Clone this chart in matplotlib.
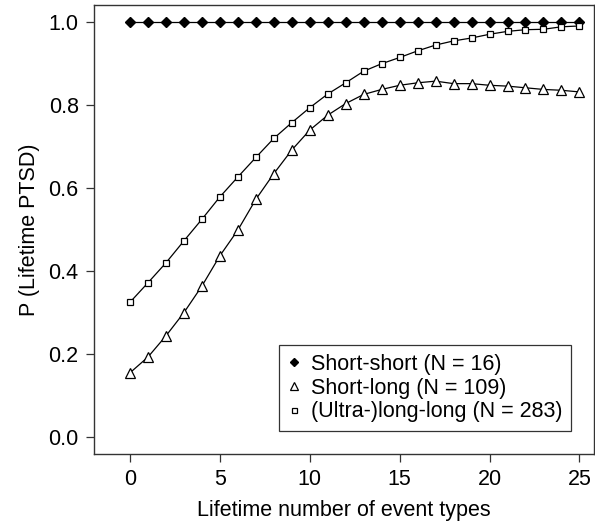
import matplotlib.pyplot as plt
import numpy as np

plt.rcParams['font.family'] = ['Liberation Sans', 'DejaVu Sans']

x = np.arange(0, 26)

short_short = [1.0] * 26
short_long = [0.155, 0.193, 0.244, 0.300, 0.364, 0.437, 0.499, 0.573, 0.635, 0.692,
              0.740, 0.776, 0.804, 0.826, 0.838, 0.848, 0.854, 0.858, 0.852, 0.852,
              0.848, 0.846, 0.842, 0.838, 0.836, 0.832]
long_long = [0.325, 0.372, 0.420, 0.473, 0.525, 0.579, 0.627, 0.674, 0.720, 0.758,
             0.794, 0.827, 0.854, 0.882, 0.900, 0.915, 0.931, 0.945, 0.955, 0.962,
             0.971, 0.978, 0.982, 0.983, 0.989, 0.991]

labels = ['Short-short (N = 16)', 'Short-long (N = 109)', '(Ultra-)long-long (N = 283)']

fig = plt.figure(figsize=(5.95, 5.22), dpi=100)
ax = fig.add_axes([0.158, 0.130, 0.840, 0.860])

ax.plot(x, short_short, color='black', lw=0.9, marker='D', ms=5.5,
        mfc='black', mec='black', label=labels[0])
ax.plot(x, short_long, color='black', lw=0.9, marker='^', ms=7,
        mfc='white', mec='black', mew=0.9, label=labels[1])
ax.plot(x, long_long, color='black', lw=0.9, marker='s', ms=4.5,
        mfc='white', mec='black', mew=0.9, label=labels[2])

ax.set_xlim(-2, 25.8)
ax.set_ylim(-0.041, 1.041)
ax.set_xticks([0, 5, 10, 15, 20, 25])
ax.set_yticks([0.0, 0.2, 0.4, 0.6, 0.8, 1.0])
ax.set_yticklabels(['0.0', '0.2', '0.4', '0.6', '0.8', '1.0'])

for s in ax.spines.values():
    s.set_color('#333333')
    s.set_linewidth(1.0)
ax.tick_params(direction='out', length=6, width=0.9, color='#333333',
               labelsize=15.5, pad=5)

ax.set_xlabel('Lifetime number of event types', fontsize=15.5, labelpad=7)
ax.set_ylabel('P (Lifetime PTSD)', fontsize=15.5, labelpad=6)

leg = ax.legend(loc='lower right', bbox_to_anchor=(0.955, 0.052), fontsize=15.5,
                frameon=True, fancybox=False, markerscale=0.8, handlelength=0.6,
                handletextpad=0.5, borderpad=0.4, labelspacing=0.12,
                borderaxespad=0)
leg.get_frame().set_edgecolor('black')
leg.get_frame().set_linewidth(0.9)
for h in leg.get_lines():
    h.set_linestyle('none')

fig.savefig('out.png', dpi=100)
